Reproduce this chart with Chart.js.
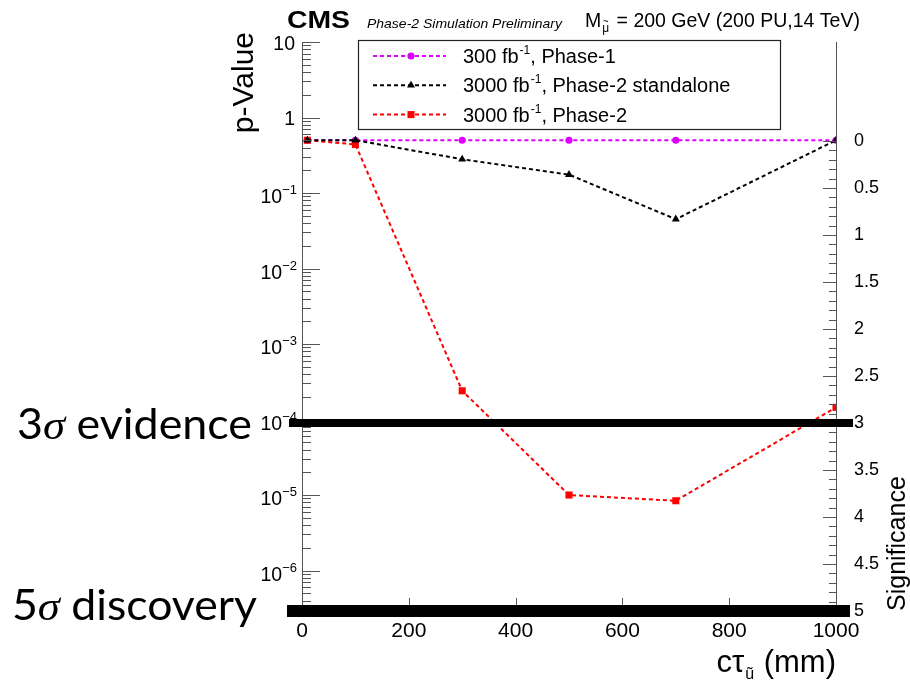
<!DOCTYPE html>
<html>
<head>
<meta charset="utf-8">
<script src="https://cdn.jsdelivr.net/npm/chart.js@4/dist/chart.umd.min.js"></script>
<style>
  html, body { margin: 0; padding: 0; background: #fff; }
  canvas { display: block; }
</style>
</head>
<body>
<canvas id="c" width="910" height="685"></canvas>
<script>
// c*tau points (mm)
const ctauValues = [10, 100, 300, 500, 700, 1000];
// p-values for each scenario
const pPhase1 = [0.5, 0.5, 0.5, 0.5, 0.5, 0.5];
const pPhase2Standalone = [0.5, 0.5, 0.28, 0.175, 0.045, 0.5];
const pPhase2 = [0.5, 0.44, 2.4e-4, 1.0e-5, 8.4e-6, 1.45e-4];
// legend text pieces
const seriesLumi = ['300 fb', '3000 fb', '3000 fb'];
const seriesSuffix = [', Phase-1', ', Phase-2 standalone', ', Phase-2'];
// axis ticks
const xTicks = [0, 200, 400, 600, 800, 1000];
const pDecades = [-6, -5, -4, -3, -2, -1, 0, 1];
const sigTicks = [0, 0.5, 1, 1.5, 2, 2.5, 3, 3.5, 4, 4.5, 5];
// significance thresholds and their captions
const thresholdSig = [3, 5];
const thresholdNum = ['3', '5'];
const thresholdWord = [' evidence', ' discovery'];

const SANS = '"Liberation Sans", Arial, Helvetica, sans-serif';
const CAPTION = 'Lato, "Open Sans", sans-serif';
const GREEK = '"Liberation Serif", "DejaVu Serif", serif';

function series(data, color, pointStyle, radius, order) {
  return {
    data: ctauValues.map((x, i) => ({ x, y: data[i] })),
    borderColor: color,
    backgroundColor: color,
    borderWidth: 2,
    borderDash: [4, 3],
    pointStyle,
    pointRadius: radius,
    pointHoverRadius: radius,
    pointBorderWidth: 0,
    pointBackgroundColor: color,
    tension: 0,
    fill: false,
    order,
    xAxisID: 'x',
    yAxisID: 'y'
  };
}

const datasets = [
  series(pPhase1, '#dd00ff', 'circle', 3.6, 2),
  series(pPhase2Standalone, '#000000', 'triangle', 4.6, 0),
  series(pPhase2, '#ff0000', 'rect', 5, 1)
];

// draw text squeezed or stretched horizontally to a given width
function fitText(ctx, text, x, y, width) {
  const w = ctx.measureText(text).width;
  ctx.save();
  ctx.translate(x, y);
  ctx.scale(width / w, 1);
  ctx.fillText(text, 0, 0);
  ctx.restore();
}

// tick marks drawn inside the frame, ROOT style, plus the 10^n labels
const frameTicks = {
  id: 'frameTicks',
  afterDatasetsDraw(chart) {
    const { ctx, chartArea: a, scales } = chart;
    ctx.save();
    ctx.strokeStyle = '#555';
    ctx.lineWidth = 1;
    ctx.beginPath();
    const yS = scales.y;
    const lo = Math.floor(Math.log10(yS.min)), hi = Math.ceil(Math.log10(yS.max));
    for (let d = lo; d <= hi; d++) {
      for (let k = 1; k <= 9; k++) {
        const v = k * Math.pow(10, d);
        if (v < yS.min * 0.999 || v > yS.max * 1.001) continue;
        const py = Math.round(yS.getPixelForValue(v)) + 0.5;
        const len = k === 1 ? 18 : 9;
        ctx.moveTo(a.left, py);
        ctx.lineTo(a.left + len, py);
      }
    }
    const sS = scales.sig;
    for (let i = 0; i <= 50; i++) {
      const v = i / 10;
      const py = Math.round(sS.getPixelForValue(v)) + 0.5;
      const len = i % 5 === 0 ? 13 : 7;
      ctx.moveTo(a.right, py);
      ctx.lineTo(a.right - len, py);
    }
    const xS = scales.x;
    xTicks.forEach(v => {
      const px = Math.round(xS.getPixelForValue(v)) + 0.5;
      ctx.moveTo(px, a.bottom);
      ctx.lineTo(px, a.bottom - 13);
    });
    ctx.stroke();

    // p-value axis labels with raised exponents
    ctx.fillStyle = '#000';
    ctx.textBaseline = 'alphabetic';
    ctx.textAlign = 'left';
    const right = a.left - 5;
    yS.ticks.forEach(t => {
      const e = Math.round(Math.log10(t.value));
      const py = yS.getPixelForValue(t.value);
      ctx.font = '19.5px ' + SANS;
      if (e === 1 || e === 0) {
        const s = e === 1 ? '10' : '1';
        const w = ctx.measureText(s).width;
        ctx.fillText(s, right - w - 2, py + 7.5);
        return;
      }
      const base = '10', exp = '\u2212' + String(-e);
      const wb = ctx.measureText(base).width;
      ctx.font = '13px ' + SANS;
      const we = ctx.measureText(exp).width;
      const x0 = right - wb - we;
      ctx.font = '19.5px ' + SANS;
      ctx.fillText(base, x0, py + 10);
      ctx.font = '13px ' + SANS;
      ctx.fillText(exp, x0 + wb, py + 1);
    });
    ctx.restore();
  }
};

// header, axis titles, legend box and threshold lines
const annotations = {
  id: 'annotations',
  afterDraw(chart) {
    const { ctx, chartArea: a, scales } = chart;
    ctx.save();
    ctx.fillStyle = '#000';
    ctx.textBaseline = 'alphabetic';
    ctx.textAlign = 'left';

    // header line
    ctx.font = 'bold 24px ' + SANS;
    fitText(ctx, 'CMS', 287, 28, 63);
    ctx.font = 'italic 13.5px ' + SANS;
    fitText(ctx, 'Phase-2 Simulation Preliminary', 367, 28, 195);
    let hx = 585;
    ctx.font = '19.5px ' + SANS;
    ctx.fillText('M', hx, 27);
    hx += ctx.measureText('M').width + 1;
    ctx.font = '12px ' + SANS;
    const wMu = ctx.measureText('μ').width;
    ctx.fillText('μ', hx, 32);
    ctx.font = '10px ' + SANS;
    ctx.fillText('~', hx + (wMu - ctx.measureText('~').width) / 2, 25);
    hx += wMu + 2;
    ctx.font = '19.5px ' + SANS;
    ctx.fillText(' = 200 GeV (200 PU,14 TeV)', hx, 27);

    // left axis title
    ctx.save();
    ctx.translate(253, 32);
    ctx.rotate(-Math.PI / 2);
    ctx.textAlign = 'right';
    ctx.font = '30px ' + SANS;
    ctx.fillText('p-Value', 0, 0);
    ctx.restore();

    // right axis title
    ctx.save();
    ctx.translate(905, a.bottom);
    ctx.rotate(-Math.PI / 2);
    ctx.textAlign = 'left';
    ctx.font = '25px ' + SANS;
    ctx.fillText('Significance', 0, 0);
    ctx.restore();

    // x axis title, right aligned to the frame
    ctx.font = '31px ' + SANS;
    const tail = ' (mm)';
    const wTail = ctx.measureText(tail).width;
    const wCt = ctx.measureText('cτ').width;
    ctx.font = '16px ' + SANS;
    const wSub = ctx.measureText('ũ').width;
    let tx = a.right - wTail - wSub - wCt - 2;
    ctx.font = '31px ' + SANS;
    ctx.fillText('cτ', tx, 672);
    tx += wCt + 1;
    ctx.font = '16px ' + SANS;
    ctx.fillText('ũ', tx, 679);
    tx += wSub + 1;
    ctx.font = '31px ' + SANS;
    ctx.fillText(tail, tx, 672);

    // legend box
    const box = { l: 358, t: 40, r: 780, b: 129 };
    ctx.fillStyle = '#fff';
    ctx.fillRect(box.l, box.t, box.r - box.l, box.b - box.t);
    ctx.strokeStyle = '#222';
    ctx.lineWidth = 1.2;
    ctx.strokeRect(box.l + 0.5, box.t + 0.5, box.r - box.l, box.b - box.t);
    [0, 1, 2].forEach((idx, r) => {
      const ds = chart.data.datasets[idx];
      const cy = 56 + r * 29.3;
      ctx.save();
      ctx.strokeStyle = ds.borderColor;
      ctx.lineWidth = 2;
      ctx.setLineDash(ds.borderDash);
      ctx.beginPath();
      ctx.moveTo(373, cy);
      ctx.lineTo(446, cy);
      ctx.stroke();
      ctx.setLineDash([]);
      ctx.fillStyle = ds.borderColor;
      Chart.helpers.drawPoint(ctx, { pointStyle: ds.pointStyle, radius: ds.pointRadius, rotation: 0, borderWidth: 0 }, 411, cy);
      ctx.restore();
      ctx.fillStyle = '#000';
      let lx = 463;
      ctx.font = '20px ' + SANS;
      ctx.fillText(seriesLumi[idx], lx, cy + 7);
      lx += ctx.measureText(seriesLumi[idx]).width + 1;
      ctx.font = '12px ' + SANS;
      ctx.fillText('-1', lx, cy - 2);
      lx += ctx.measureText('-1').width;
      ctx.font = '20px ' + SANS;
      ctx.fillText(seriesSuffix[idx], lx, cy + 7);
    });

    // significance thresholds
    const sS = scales.sig;
    const bandW = [8, 12];
    const bandL = [a.left - 13, a.left - 15];
    const bandR = [a.right + 17, a.right + 14];
    const textBase = [16, 9];
    const textLeft = [17, 12];
    const textWidth = [235, 245];
    thresholdSig.forEach((s, i) => {
      const py = sS.getPixelForValue(s);
      ctx.fillStyle = '#000';
      ctx.fillRect(bandL[i], py - bandW[i] / 2, bandR[i] - bandL[i], bandW[i]);
      const base = py + textBase[i];
      ctx.font = '42px ' + CAPTION;
      const wNum = ctx.measureText(thresholdNum[i]).width;
      const wWord = ctx.measureText(thresholdWord[i]).width;
      ctx.font = 'italic 42px ' + GREEK;
      const wSig = ctx.measureText('σ').width;
      const k = textWidth[i] / (wNum + wSig + wWord);
      ctx.save();
      ctx.translate(textLeft[i], base);
      ctx.scale(k, 1);
      ctx.font = '42px ' + CAPTION;
      ctx.fillText(thresholdNum[i], 0, 0);
      ctx.font = 'italic 42px ' + GREEK;
      ctx.fillText('σ', wNum, 0);
      ctx.font = '42px ' + CAPTION;
      ctx.fillText(thresholdWord[i], wNum + wSig, 0);
      ctx.restore();
    });
    ctx.restore();
  }
};

new Chart(document.getElementById('c'), {
  type: 'line',
  data: { datasets },
  options: {
    responsive: false,
    animation: false,
    devicePixelRatio: 1,
    layout: { padding: { top: 42, left: 0, right: 0, bottom: 0 } },
    plugins: { legend: { display: false }, tooltip: { enabled: false } },
    scales: {
      x: {
        type: 'linear',
        position: 'bottom',
        min: 0,
        max: 1000,
        afterBuildTicks: s => { s.ticks = xTicks.map(v => ({ value: v })); },
        afterFit: s => { s.height = 685 - 611; },
        grid: { display: false },
        border: { display: true, color: '#555', width: 1 },
        ticks: { autoSkip: false, maxRotation: 0, padding: 0, color: '#000', font: { family: SANS, size: 21 }, callback: v => String(v) }
      },
      y: {
        type: 'logarithmic',
        position: 'left',
        min: 2.91e-7,
        max: 10,
        afterBuildTicks: s => { s.ticks = pDecades.map(e => ({ value: Math.pow(10, e), major: true })); },
        afterFit: s => { s.width = 302; },
        grid: { display: false },
        border: { display: true, color: '#555', width: 1 },
        ticks: { display: false, autoSkip: false }
      },
      sig: {
        type: 'linear',
        position: 'right',
        reverse: true,
        min: -1.053,
        max: 5,
        afterBuildTicks: s => { s.ticks = sigTicks.map(v => ({ value: v })); },
        afterFit: s => { s.width = 910 - 836; },
        grid: { display: false },
        border: { display: true, color: '#555', width: 1 },
        ticks: { autoSkip: false, padding: 10, color: '#000', font: { family: SANS, size: 18 }, callback: v => String(v) }
      }
    }
  },
  plugins: [frameTicks, annotations]
});
</script>
</body>
</html>
